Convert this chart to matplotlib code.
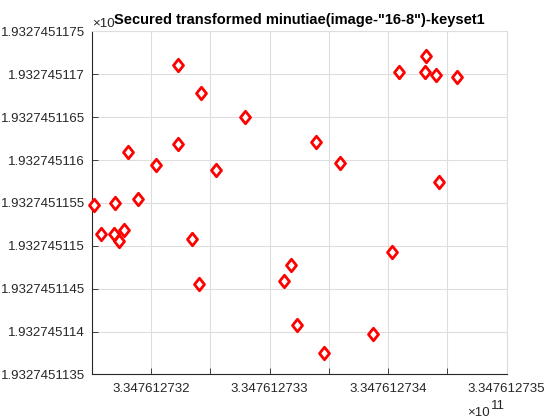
import matplotlib
matplotlib.use("Agg")
import matplotlib.pyplot as plt
from matplotlib.path import Path

plt.rcParams['font.family'] = ['Liberation Sans', 'DejaVu Sans']

# Data (x in units, y in units)
x_vals = [334761273151.9, 334761273169.9, 334761273189.0, 334761273158.1, 334761273168.6,
          334761273172.8, 334761273177.2, 334761273180.4, 334761273204.5, 334761273222.5,
          334761273222.8, 334761273242.2, 334761273255.1, 334761273279.5, 334761273234.8,
          334761273240.7, 334761273312.4, 334761273318.1, 334761273322.9, 334761273339.2,
          334761273346.2, 334761273359.7, 334761273387.5, 334761273403.5, 334761273409.4,
          334761273431.9, 334761273430.7, 334761273440.0, 334761273443.2, 334761273458.5]
y_vals = [1932745115.48, 1932745115.50, 1932745115.55, 1932745115.14, 1932745115.14,
          1932745115.06, 1932745115.18, 1932745116.09, 1932745115.94, 1932745117.11,
          1932745116.19, 1932745116.78, 1932745115.88, 1932745116.50, 1932745115.08,
          1932745114.56, 1932745114.59, 1932745114.78, 1932745114.08, 1932745116.21,
          1932745113.75, 1932745115.97, 1932745113.97, 1932745114.93, 1932745117.03,
          1932745117.21, 1932745117.03, 1932745116.99, 1932745115.74, 1932745116.97]

x_ticks = [334761273150, 334761273200, 334761273250, 334761273300,
           334761273350, 334761273400, 334761273450, 334761273500]
x_tick_labels = ['', '3.347612732', '', '3.347612733', '', '3.347612734', '', '3.347612735']
y_ticks = [1932745113.5, 1932745114.0, 1932745114.5, 1932745115.0, 1932745115.5,
           1932745116.0, 1932745116.5, 1932745117.0, 1932745117.5]
y_tick_labels = ['1.9327451135', '1.932745114', '1.9327451145', '1.932745115', '1.9327451155',
                 '1.932745116', '1.9327451165', '1.932745117', '1.9327451175']
title = 'Secured transformed minutiae(image-"16-8")-keyset1'

dark = '#262626'
gridc = '#dedede'

fig = plt.figure(figsize=(5.6, 4.2), dpi=100)
ax = fig.add_axes([91.7/560, 1-374.4/420, (506.7-91.7)/560, (374.4-31.4)/420])

diamond = Path([(0, 1), (0.8, 0), (0, -1), (-0.8, 0), (0, 1)],
               [Path.MOVETO, Path.LINETO, Path.LINETO, Path.LINETO, Path.CLOSEPOLY])
ax.plot(x_vals, y_vals, linestyle='none', marker=diamond, markersize=9,
        markerfacecolor='white', markeredgecolor='red', markeredgewidth=2, zorder=3, clip_on=False)

ax.set_xlim(x_ticks[0], x_ticks[-1])
ax.set_ylim(y_ticks[0], y_ticks[-1])
ax.set_xticks(x_ticks)
ax.set_xticklabels(x_tick_labels)
ax.set_yticks(y_ticks)
ax.set_yticklabels(y_tick_labels)

ax.grid(True, color=gridc, linewidth=0.8)
ax.set_axisbelow(True)
for s in ['top', 'right']:
    ax.spines[s].set_color(gridc)
    ax.spines[s].set_linewidth(0.8)
for s in ['left', 'bottom']:
    ax.spines[s].set_color(dark)
    ax.spines[s].set_linewidth(0.8)
ax.tick_params(direction='in', length=4, width=0.6, color=dark, labelcolor=dark,
               labelsize=9.5)
ax.tick_params(axis='y', pad=5)
ax.tick_params(axis='x', pad=6)

# offset (exponent) labels, MATLAB style
fig.text(92.3/560, 1-26.7/420, '\u00d710', color=dark, fontsize=9.5, ha='left', va='baseline')
fig.text(489.5/560, 1-416/420, '\u00d710', color=dark, fontsize=9.5, ha='right', va='baseline')
fig.text(490.5/560, 1-409/420, '11', color=dark, fontsize=9.5, ha='left', va='baseline')

ax.set_title(title, fontsize=10.5, fontweight='bold', color='black', pad=5.3)

fig.savefig('out.png', dpi=100)
